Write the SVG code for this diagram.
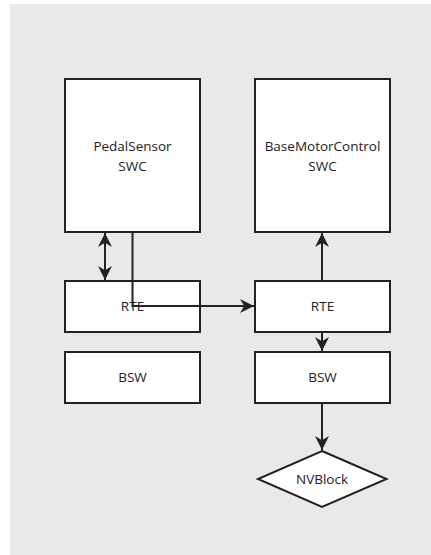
<svg xmlns="http://www.w3.org/2000/svg" width="431" height="555" viewBox="0 0 431 555">
  <style>
    .box { fill: #ffffff; stroke: #222222; stroke-width: 2; }
    .lbl { font-family: "Open Sans", "Noto Sans", sans-serif; font-size: 13.5px; fill: #222222; text-anchor: middle; }
    .edge { fill: none; stroke: #222222; stroke-width: 2; }
  </style>
  <defs>
    <marker id="arrow" viewBox="0 0 10 10" refX="10" refY="5" markerWidth="14" markerHeight="14" orient="auto-start-reverse" markerUnits="userSpaceOnUse">
      <path d="M0,0 L10,5 L0,10 L3,5 Z" fill="#222222"/>
    </marker>
  </defs>
  <!-- canvas -->
  <rect x="10" y="4" width="421" height="551" fill="#e9e9e9"/>

  <g id="pedal-swc">
    <rect class="box" x="65" y="79" width="135" height="153"/>
    <text class="lbl" x="132.5" y="151">PedalSensor</text>
    <text class="lbl" x="132.5" y="170.5">SWC</text>
  </g>
  <g id="motor-swc">
    <rect class="box" x="255" y="79" width="135" height="153"/>
    <text class="lbl" x="322.5" y="151">BaseMotorControl</text>
    <text class="lbl" x="322.5" y="170.5">SWC</text>
  </g>
  <g id="rte-left">
    <rect class="box" x="65" y="281" width="135" height="51"/>
    <text class="lbl" x="132.5" y="311">RTE</text>
  </g>
  <g id="rte-right">
    <rect class="box" x="255" y="281" width="135" height="51"/>
    <text class="lbl" x="322.5" y="311">RTE</text>
  </g>
  <g id="bsw-left">
    <rect class="box" x="65" y="352" width="135" height="51"/>
    <text class="lbl" x="132.5" y="382">BSW</text>
  </g>
  <g id="bsw-right">
    <rect class="box" x="255" y="352" width="135" height="51"/>
    <text class="lbl" x="322.5" y="382">BSW</text>
  </g>
  <g id="nvblock">
    <polygon class="box" points="322,451 386.5,479 322,507 258,479"/>
    <text class="lbl" x="322" y="483.5">NVBlock</text>
  </g>

  <g id="connectors">
    <line class="edge" x1="105" y1="233" x2="105" y2="280" marker-start="url(#arrow)" marker-end="url(#arrow)"/>
    <polyline class="edge" points="132.5,232 132.5,306 254,306" marker-end="url(#arrow)"/>
    <line class="edge" x1="322" y1="281" x2="322" y2="233" marker-end="url(#arrow)"/>
    <line class="edge" x1="322" y1="332" x2="322" y2="351" marker-end="url(#arrow)"/>
    <line class="edge" x1="322" y1="403" x2="322" y2="450" marker-end="url(#arrow)"/>
  </g>
</svg>
